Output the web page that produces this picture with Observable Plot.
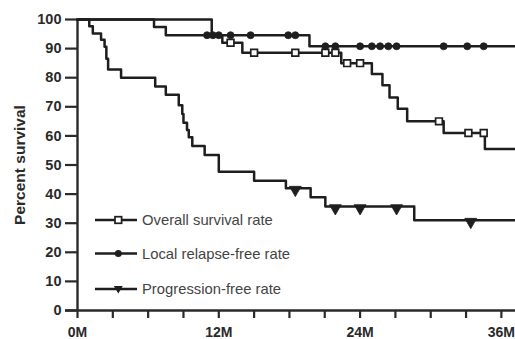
<!DOCTYPE html>
<html>
<head>
<meta charset="utf-8">
<script src="https://cdn.jsdelivr.net/npm/d3@7"></script>
<script src="https://cdn.jsdelivr.net/npm/@observablehq/plot@0.6"></script>
<style>
  html, body { margin: 0; padding: 0; background: #fff; }
  #wrap { position: relative; width: 515px; height: 339px; font-family: "Liberation Sans", Arial, sans-serif; }
  #legend { position: absolute; left: 0; top: 0; }
</style>
</head>
<body>
<div id="wrap"></div>
<script>
// ---- data (months, percent) ----
const followUpEnd = 37.2;

const osTime = [0, 11.4, 12.3, 14.0, 22.4, 25.0, 25.9, 26.5, 27.2, 28.0, 31.1, 34.6, followUpEnd];
const osSurv = [100, 94.6, 92.0, 88.6, 85.0, 81.3, 77.4, 73.2, 69.3, 65.0, 61.0, 55.5, 55.5];
const osCensor = [13.0, 15.0, 18.5, 21.05, 21.9, 22.9, 24.0, 30.7, 33.2, 34.5];

const lrTime = [0, 6.5, 7.5, 19.7, followUpEnd];
const lrSurv = [100, 97.4, 94.6, 90.8, 90.8];
const lrCensor = [11.0, 11.5, 12.0, 13.0, 14.7, 17.9, 18.5, 21.05, 21.9, 24.0, 25.0, 25.7, 26.4, 27.1, 31.1, 33.1, 34.5];

const pfTime = [0, 1.0, 1.3, 2.0, 2.3, 2.45, 2.6, 3.7, 6.6, 7.5, 8.6, 8.9, 9.0, 9.3, 9.45, 9.75, 10.8, 12.0, 15.0, 17.7, 19.8, 21.05, 28.6, followUpEnd];
const pfSurv = [100, 97.7, 95.2, 93.0, 90.6, 86.5, 82.8, 80.0, 77.0, 74.1, 70.5, 67.5, 64.5, 62.0, 59.5, 56.5, 53.4, 47.7, 44.6, 42.0, 38.9, 35.7, 31.0, 31.0];
const pfCensor = [18.5, 21.9, 24.0, 27.1, 33.4];

const seriesNames = ["Overall survival rate", "Local relapse-free rate", "Progression-free rate"];
const yTicks = d3.range(0, 101, 10);
const xTicks = d3.range(0, 37, 3);

// ---- helpers ----
function stepAt(times, vals, t) {
  let v = vals[0];
  for (let i = 0; i < times.length; i++) if (times[i] <= t) v = vals[i];
  return v;
}
const toRows = (times, vals) => times.map((t, i) => ({t, s: vals[i]}));
const censorRows = (cs, times, vals) => cs.map(t => ({t, s: stepAt(times, vals, t)}));

const ink = "#1e1e1e";
const lw = 2.5;

const chart = Plot.plot({
  width: 515,
  height: 339,
  marginLeft: 77,
  marginRight: 0,
  marginTop: 19,
  marginBottom: 29,
  style: {fontFamily: "'Liberation Sans', Arial, sans-serif", color: "#2a2a2a", background: "#fff"},
  x: {domain: [0, followUpEnd]},
  y: {domain: [0, 100]},
  marks: [
    Plot.ruleY([0], {x1: -1.02, x2: followUpEnd, stroke: "#2a2a2a", strokeWidth: 2.4, clip: false}),
    Plot.ruleX([0], {stroke: "#2a2a2a", strokeWidth: 2.4}),
    Plot.axisY({ticks: yTicks, tickSize: 12, tickPadding: 4, fontSize: 14.5, fontWeight: "bold", strokeWidth: 2.2, label: null}),
    Plot.axisX({ticks: xTicks, tickFormat: d => d % 12 === 0 ? d + "M" : "", tickSize: 8, tickPadding: 9, fontSize: 14, fontWeight: "bold", strokeWidth: 2.2, label: null}),
    Plot.text(["Percent survival"], {frameAnchor: "left", rotate: -90, dx: -57, fontSize: 15.5, fontWeight: "bold", fill: "#2a2a2a", textAnchor: "middle", lineAnchor: "middle"}),
    Plot.line(toRows(lrTime, lrSurv), {x: "t", y: "s", curve: "step-after", stroke: ink, strokeWidth: lw}),
    Plot.line(toRows(osTime, osSurv), {x: "t", y: "s", curve: "step-after", stroke: ink, strokeWidth: lw}),
    Plot.line(toRows(pfTime, pfSurv), {x: "t", y: "s", curve: "step-after", stroke: ink, strokeWidth: lw}),
    Plot.dot(censorRows(lrCensor, lrTime, lrSurv), {x: "t", y: "s", r: 3.5, fill: ink, stroke: ink, strokeWidth: 0.8}),
    Plot.dot(censorRows(osCensor, osTime, osSurv), {x: "t", y: "s", symbol: "square", r: 3.8, fill: "#fff", stroke: ink, strokeWidth: 1.7}),
    Plot.dot(censorRows(pfCensor, pfTime, pfSurv), {x: "t", y: "s", symbol: "triangle", rotate: 180, r: 4.4, dy: 1.5, fill: ink, stroke: ink, strokeWidth: 0.8})
  ]
});

const wrap = document.getElementById("wrap");
wrap.appendChild(chart);

// ---- legend (inside plot area) ----
const ns = "http://www.w3.org/2000/svg";
const lg = document.createElementNS(ns, "svg");
lg.setAttribute("id", "legend");
lg.setAttribute("width", 515);
lg.setAttribute("height", 339);
const rowsY = [220, 253.5, 289];
const symbols = ["square", "circle", "triangle"];
seriesNames.forEach((name, i) => {
  const y = rowsY[i];
  const line = document.createElementNS(ns, "line");
  line.setAttribute("x1", 95); line.setAttribute("x2", 137);
  line.setAttribute("y1", y); line.setAttribute("y2", y);
  line.setAttribute("stroke", ink); line.setAttribute("stroke-width", lw);
  lg.appendChild(line);
  let sym;
  if (symbols[i] === "square") {
    sym = document.createElementNS(ns, "rect");
    sym.setAttribute("x", 115); sym.setAttribute("y", y - 3.3);
    sym.setAttribute("width", 6.6); sym.setAttribute("height", 6.6);
    sym.setAttribute("fill", "#fff"); sym.setAttribute("stroke", ink); sym.setAttribute("stroke-width", 1.7);
  } else if (symbols[i] === "circle") {
    sym = document.createElementNS(ns, "circle");
    sym.setAttribute("cx", 118.3); sym.setAttribute("cy", y); sym.setAttribute("r", 3.5);
    sym.setAttribute("fill", ink);
  } else {
    sym = document.createElementNS(ns, "path");
    sym.setAttribute("d", `M${113.8},${y - 3} L${122.8},${y - 3} L${118.3},${y + 4.5} Z`);
    sym.setAttribute("fill", ink);
  }
  lg.appendChild(sym);
  const tx = document.createElementNS(ns, "text");
  tx.setAttribute("x", 142); tx.setAttribute("y", y);
  tx.setAttribute("dy", "0.35em");
  tx.setAttribute("font-size", 14.8);
  tx.setAttribute("font-family", "'Liberation Sans', Arial, sans-serif");
  tx.setAttribute("fill", "#444");
  tx.textContent = name;
  lg.appendChild(tx);
});
wrap.appendChild(lg);
</script>
</body>
</html>
